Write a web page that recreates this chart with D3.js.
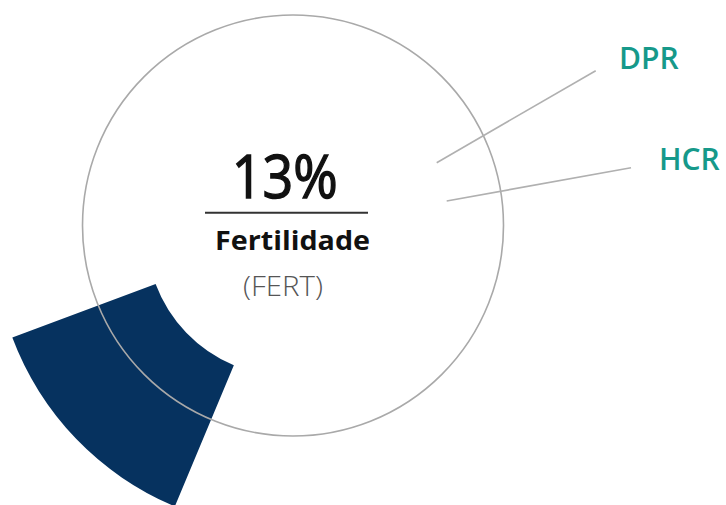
<!DOCTYPE html>
<html>
<head>
<meta charset="utf-8">
<script src="https://cdn.jsdelivr.net/npm/d3@7"></script>
<style>
  html, body { margin: 0; padding: 0; background: #fff; }
  svg { display: block; }
</style>
</head>
<body>
<svg id="chart" width="726" height="505"></svg>
<script>
// ---- data ----
const segmentLabels = ["FERT"];
const segmentValues = [13];          // percent
const segmentStartPercent = 56.3;    // where the highlighted segment begins (percent of full turn)
const centerValueText = "13%";
const centerTitle = "Fertilidade";
const centerSubtitle = "(FERT)";
const calloutLabels = ["DPR", "HCR"];

// ---- layout ----
const W = 726, H = 505;
const cx = 293, cy = 225.5, ringR = 210.5;
const segCx = 288.6, segCy = 234.2;
const innerR = 142, outerR = 295;

const svg = d3.select("#chart");
svg.append("rect").attr("width", W).attr("height", H).attr("fill", "#fff");

const angle = d3.scaleLinear().domain([0, 100]).range([0, 2 * Math.PI]);

// highlighted segment
const arc = d3.arc().innerRadius(innerR).outerRadius(outerR);
let start = segmentStartPercent;
const segData = segmentValues.map((v, i) => {
  const d = { label: segmentLabels[i], startAngle: angle(start), endAngle: angle(start + v) };
  start += v;
  return d;
});
svg.append("g").attr("transform", `translate(${segCx},${segCy})`)
  .selectAll("path").data(segData).join("path")
  .attr("d", arc)
  .attr("fill", "#06325f");

// outline circle
svg.append("circle")
  .attr("cx", cx).attr("cy", cy).attr("r", ringR)
  .attr("fill", "none").attr("stroke", "#a9a9a9").attr("stroke-width", 1.6);

// callout lines + labels
const callouts = [
  { x1: 436.7, y1: 162.7, x2: 595.7, y2: 70.7, tx: 619, ty: 69 },
  { x1: 446.7, y1: 201, x2: 631, y2: 167.7, tx: 659, ty: 170 }
];
const cg = svg.append("g");
cg.selectAll("line").data(callouts).join("line")
  .attr("x1", d => d.x1).attr("y1", d => d.y1)
  .attr("x2", d => d.x2).attr("y2", d => d.y2)
  .attr("stroke", "#b0b0b0").attr("stroke-width", 1.6);
cg.selectAll("text").data(callouts).join("text")
  .attr("x", d => d.tx).attr("y", d => d.ty)
  .attr("font-family", "'Open Sans', 'Noto Sans', sans-serif")
  .attr("font-size", 30)
  .attr("font-weight", 600)
  .attr("fill", "#16998a")
  .text((d, i) => calloutLabels[i]);

// center text
const fitText = (sel, width) => {
  const n = sel.node();
  const w = n.getComputedTextLength();
  if (w > 0) sel.attr("textLength", width).attr("lengthAdjust", "spacingAndGlyphs");
};

const t1 = svg.append("text")
  .attr("x", 231.7).attr("y", 198)
  .attr("font-family", "'Open Sans', 'Noto Sans', sans-serif")
  .attr("font-size", 60)
  .attr("font-weight", 400)
  .attr("fill", "#111")
  .attr("stroke", "#111")
  .attr("stroke-width", 1.4)
  .text(centerValueText);
fitText(t1, 106);

svg.append("line")
  .attr("x1", 205).attr("x2", 368).attr("y1", 212.7).attr("y2", 212.7)
  .attr("stroke", "#333").attr("stroke-width", 2);

const t2 = svg.append("text")
  .attr("x", 215).attr("y", 250)
  .attr("font-family", "'Open Sans', 'Noto Sans', sans-serif")
  .attr("font-size", 27)
  .attr("font-weight", 700)
  .attr("fill", "#111")
  .text(centerTitle);
fitText(t2, 155);

const t3 = svg.append("text")
  .attr("x", 243).attr("y", 296)
  .attr("font-family", "'Open Sans', 'Noto Sans', sans-serif")
  .attr("font-size", 27)
  .attr("font-weight", 300)
  .attr("fill", "#555")
  .text(centerSubtitle);
fitText(t3, 80);
</script>
</body>
</html>
